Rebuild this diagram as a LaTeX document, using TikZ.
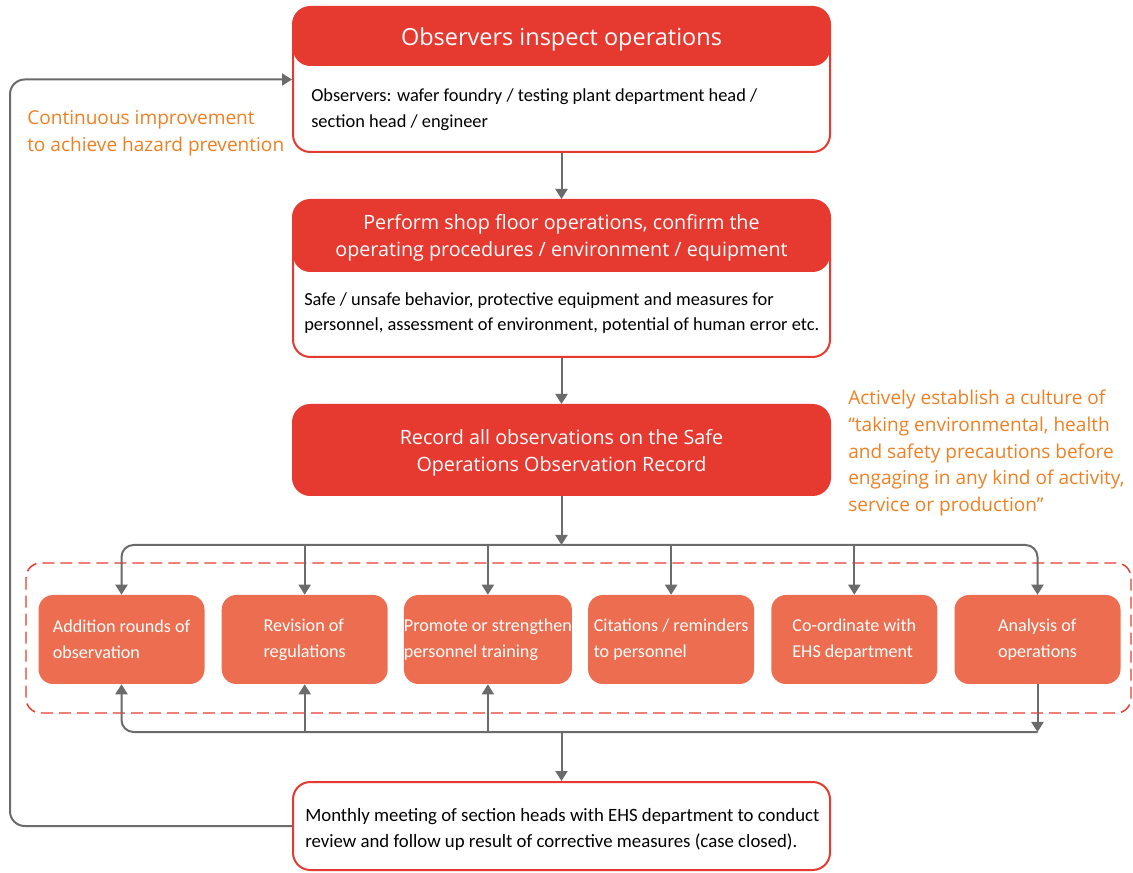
\documentclass[tikz,border=0pt]{standalone}
\usepackage{fontspec}
\setmainfont{Open Sans}
\newfontfamily\condfont{Carlito}
\usetikzlibrary{arrows.meta,positioning,calc}
\definecolor{EHSRed}{HTML}{E63A31}
\definecolor{ActOrange}{HTML}{EC6D4F}
\definecolor{NoteOrange}{HTML}{F07F22}
\definecolor{LinkGray}{HTML}{6B6B6B}

\begin{document}
\begin{tikzpicture}[
      x=0.75pt, y=-0.75pt,
      >={Triangle[length=7.5pt,width=9pt]},
      stagebox/.style={rectangle, draw=EHSRed, line width=1.5pt,
                       rounded corners=13pt, fill=white, inner sep=0pt,
                       minimum width=402.75pt},
      hdrbox/.style={stagebox,
                     path picture={\fill[EHSRed]
                       (path picture bounding box.north west) rectangle
                       ([yshift=-#1]path picture bounding box.north east);}},
      recbox/.style={stagebox, fill=EHSRed},
      actbox/.style={rectangle, fill=ActOrange, rounded corners=11pt,
                     minimum width=124.5pt, minimum height=66.75pt,
                     inner sep=0pt, align=left, text=white,
                     font=\condfont\fontsize{13.6pt}{19.5pt}\selectfont},
      ttl/.style={text=white, align=center, inner sep=0pt,
                  font=\fontsize{17.6pt}{20pt}\selectfont},
      subttl/.style={text=white, align=center, inner sep=0pt,
                     font=\fontsize{14.8pt}{20.25pt}\selectfont},
      body/.style={anchor=west, align=left, inner sep=0pt,
                   font=\condfont\fontsize{13.8pt}{19.2pt}\selectfont},
      note/.style={anchor=west, align=left, inner sep=0pt, text=NoteOrange,
                   font=\fontsize{14.3pt}{20.1pt}\selectfont},
      link/.style={draw=LinkGray, line width=1.5pt},
      frame/.style={draw=EHSRed, line width=1.1pt, dash pattern=on 9pt off 4.5pt,
                    rounded corners=11pt},
    ]
      \useasboundingbox (0,0) rectangle (1133,873);

      % stages
      \node[hdrbox=44.25pt, minimum height=108.75pt] (obs) at (561.5,79.5) {};
      \node[ttl] (obsttl) at (561.5,39) {Observers inspect operations};
      \node[body] (obsbody) at (311,109.5)
        {Observers: wafer foundry / testing plant department head /\\
         section head / engineer};

      \node[hdrbox=54pt, minimum height=117.75pt] (shop) at (561.5,278.5) {};
      \node[subttl] (shopttl) at (561.5,238)
        {Perform shop floor operations, confirm the\\
         operating procedures / environment / equipment};
      \node[body] (shopbody) at (304,313)
        {Safe / unsafe behavior, protective equipment and measures for\\
         personnel, assessment of environment, potential of human error etc.};

      \node[recbox, minimum height=67.5pt] (rec) at (561.5,450) {};
      \node[subttl] (recttl) at (561.5,453)
        {Record all observations on the Safe\\Operations Observation Record};

      \node[stagebox, minimum height=66pt] (meet) at (561.5,826) {};
      \node[body, font=\condfont\fontsize{14.1pt}{19.5pt}\selectfont]
        (meetbody) at (305,829)
        {Monthly meeting of section heads with EHS department to conduct\\
         review and follow up result of corrective measures (case closed).};

      % corrective actions
      \draw[frame] (26,563) rectangle (1131,713);
      \node[actbox] (act1) at (121.5,639.5) {Addition rounds of\\observation};
      \node[actbox] (act2) at (304.7,639.5) {Revision of\\regulations};
      \node[actbox] (act3) at (487.9,639.5) {Promote or strengthen\\personnel training};
      \node[actbox] (act4) at (671.1,639.5) {Citations / reminders\\to personnel};
      \node[actbox] (act5) at (854.3,639.5) {Co-ordinate with\\EHS department};
      \node[actbox] (act6) at (1037.5,639.5) {Analysis of\\operations};

      % notes
      \node[note] (improve) at (27,133)
        {Continuous improvement\\to achieve hazard prevention};
      \node[note] (culture) at (848,453)
        {Actively establish a culture of\\
         ``taking environmental, health\\
         and safety precautions before\\
         engaging in any kind of activity,\\
         service or production''};

      \coordinate (split) at (561.5,545);
      \coordinate (merge) at (561.5,732);
      \coordinate (loop) at (10,826);

      \draw[link,->] (obs) -- (shop);
      \draw[link,->] (shop) -- (rec);
      \draw[link,->] (rec) -- (split);
      \draw[link,->,rounded corners=9pt] (split) -| (act1.north);
      \draw[link,->,rounded corners=9pt] (split) -| (act6.north);
      \foreach \i in {2,3,4,5}
        \draw[link,->] (act\i.north |- split) -- (act\i.north);

      \draw[link,->] (act6.south) -- (act6.south |- merge);
      \draw[link,->,rounded corners=9pt] (act6.south |- merge) -| (act1.south);
      \foreach \i in {2,3}
        \draw[link,->] (act\i.south |- merge) -- (act\i.south);
      \draw[link,->] (merge) -- (meet);

      \draw[link,->,rounded corners=11pt] (meet.west) -- (loop) |- (obs.west);
    \end{tikzpicture}
\end{document}
